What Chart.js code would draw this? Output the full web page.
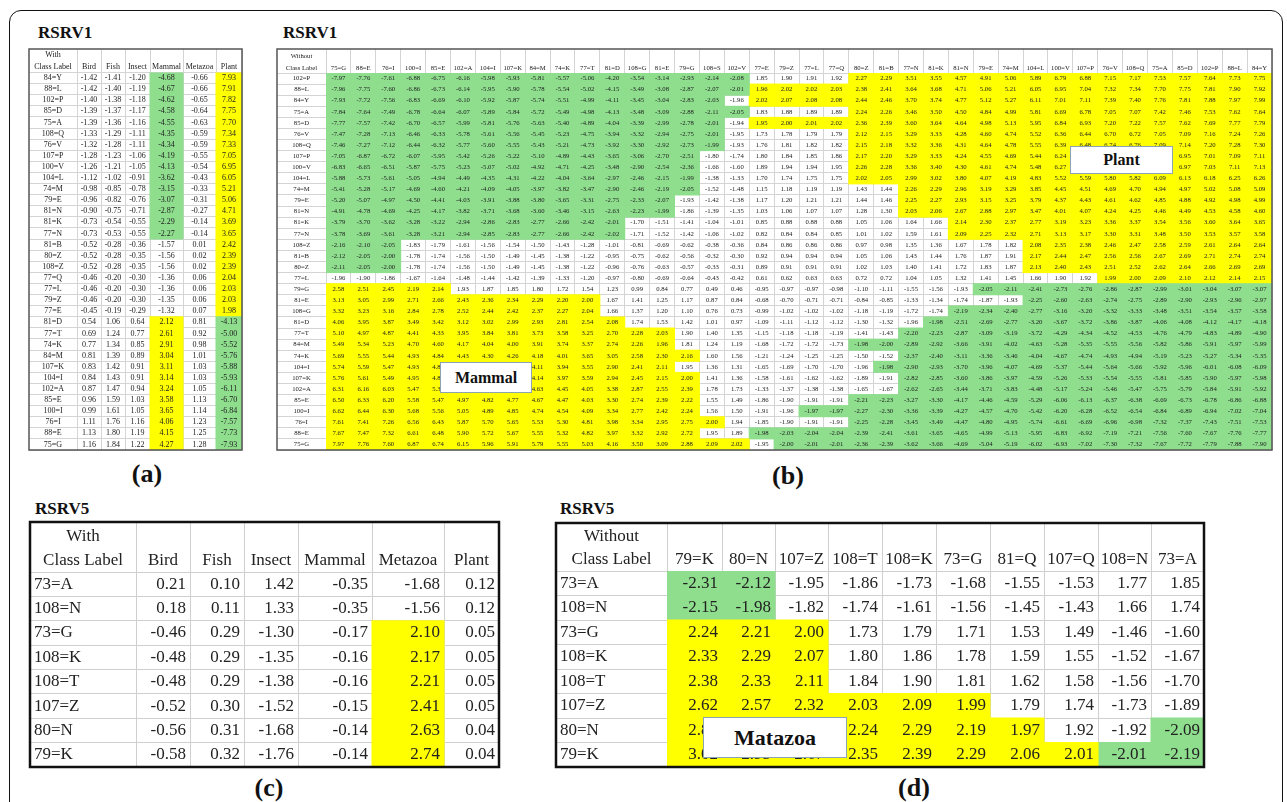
<!DOCTYPE html>
<html>
<head>
<meta charset="utf-8">
<title>RSRV1 / RSRV5 class label tables</title>
<script src="https://cdn.jsdelivr.net/npm/chart.js@4.4.1/dist/chart.umd.min.js"></script>
<style>
  body { margin: 0; background: #fff; }
  #page { position: relative; width: 1287px; height: 802px; overflow: hidden; font-family: 'Liberation Serif', 'Times New Roman', serif; color: #111; }
  .frame { position: absolute; left: 9px; top: 10px; width: 1272px; height: 830px; border: 1.5px solid #111; border-radius: 12px; }
  .box { position: absolute; }
  .title { position: absolute; font-weight: bold; font-size: 17px; line-height: 17px; }
  .tag { position: absolute; width: 60px; text-align: center; font-weight: bold; font-size: 26px; line-height: 26px; }
  .note { position: absolute; background: #fff; border: 1.5px solid #8ba3b5; font-weight: bold; display: flex; align-items: center; justify-content: center; }
</style>
</head>
<body>
<div id="page">
  <div class="frame"></div>

  <div class="title" style="left:38px; top:24px;">RSRV1</div>
  <div class="title" style="left:283px; top:24px;">RSRV1</div>
  <div class="title" style="left:35px; top:500px;">RSRV5</div>
  <div class="title" style="left:560px; top:500px;">RSRV5</div>

  <div class="box" style="left:26px; top:46px; width:219px; height:407px;"><canvas id="tableA"></canvas></div>
  <div class="box" style="left:274px; top:46px; width:1001px; height:407px;"><canvas id="tableB"></canvas></div>
  <div class="box" style="left:27px; top:519px; width:475px; height:251px;"><canvas id="tableC"></canvas></div>
  <div class="box" style="left:553px; top:520px; width:654px; height:250px;"><canvas id="tableD"></canvas></div>

  <div class="note" style="left:440px; top:362px; width:90px; height:29px; font-size:16px;">Mammal</div>
  <div class="note" style="left:1070px; top:146px; width:101px; height:26px; font-size:16px;">Plant</div>
  <div class="note" style="left:703px; top:717px; width:142px; height:39px; font-size:22px;">Matazoa</div>

  <div class="tag" style="left:117px; top:461px;">(a)</div>
  <div class="tag" style="left:758px; top:463px;">(b)</div>
  <div class="tag" style="left:239px; top:775px;">(c)</div>
  <div class="tag" style="left:884px; top:775px;">(d)</div>
</div>

<script>
// ---------- (a) RSRV1, with class label ----------
const aRows = ['84=Y', '88=L', '102=P', '85=D', '75=A', '108=Q', '76=V', '107=P', '100=V', '104=L',
  '74=M', '79=E', '81=N', '81=K', '77=N', '81=B', '80=Z', '108=Z', '77=Q', '77=L', '79=Z', '77=E',
  '81=D', '77=T', '74=K', '84=M', '107=K', '104=I', '102=A', '85=E', '100=I', '76=I', '88=E', '75=G'];
const aCols = ['Bird', 'Fish', 'Insect', 'Mammal', 'Metazoa', 'Plant'];
const aValues = [
  [-1.42, -1.41, -1.20, -4.68, -0.66, 7.93],
  [-1.42, -1.40, -1.19, -4.67, -0.66, 7.91],
  [-1.40, -1.38, -1.18, -4.62, -0.65, 7.82],
  [-1.39, -1.37, -1.17, -4.58, -0.64, 7.75],
  [-1.39, -1.36, -1.16, -4.55, -0.63, 7.70],
  [-1.33, -1.29, -1.11, -4.35, -0.59, 7.34],
  [-1.32, -1.28, -1.11, -4.34, -0.59, 7.33],
  [-1.28, -1.23, -1.06, -4.19, -0.55, 7.05],
  [-1.26, -1.21, -1.05, -4.13, -0.54, 6.95],
  [-1.12, -1.02, -0.91, -3.62, -0.43, 6.05],
  [-0.98, -0.85, -0.78, -3.15, -0.33, 5.21],
  [-0.96, -0.82, -0.76, -3.07, -0.31, 5.06],
  [-0.90, -0.75, -0.71, -2.87, -0.27, 4.71],
  [-0.73, -0.54, -0.55, -2.29, -0.14, 3.69],
  [-0.73, -0.53, -0.55, -2.27, -0.14, 3.65],
  [-0.52, -0.28, -0.36, -1.57, 0.01, 2.42],
  [-0.52, -0.28, -0.35, -1.56, 0.02, 2.39],
  [-0.52, -0.28, -0.35, -1.56, 0.02, 2.39],
  [-0.46, -0.20, -0.30, -1.36, 0.06, 2.04],
  [-0.46, -0.20, -0.30, -1.36, 0.06, 2.03],
  [-0.46, -0.20, -0.30, -1.35, 0.06, 2.03],
  [-0.45, -0.19, -0.29, -1.32, 0.07, 1.98],
  [0.54, 1.06, 0.64, 2.12, 0.81, -4.13],
  [0.69, 1.24, 0.77, 2.61, 0.92, -5.00],
  [0.77, 1.34, 0.85, 2.91, 0.98, -5.52],
  [0.81, 1.39, 0.89, 3.04, 1.01, -5.76],
  [0.83, 1.42, 0.91, 3.11, 1.03, -5.88],
  [0.84, 1.43, 0.91, 3.14, 1.03, -5.93],
  [0.87, 1.47, 0.94, 3.24, 1.05, -6.11],
  [0.96, 1.59, 1.03, 3.58, 1.13, -6.70],
  [0.99, 1.61, 1.05, 3.65, 1.14, -6.84],
  [1.11, 1.76, 1.16, 4.06, 1.23, -7.57],
  [1.13, 1.80, 1.19, 4.15, 1.25, -7.73],
  [1.16, 1.84, 1.22, 4.27, 1.28, -7.93]
];
// highlight per cell: g = green, y = yellow, . = none (run-length: count + code)
const aMarks = [
  '3. 1g 1. 1y', '3. 1g 1. 1y', '3. 1g 1. 1y', '3. 1g 1. 1y', '3. 1g 1. 1y',
  '3. 1g 1. 1y', '3. 1g 1. 1y', '3. 1g 1. 1y', '3. 1g 1. 1y', '3. 1g 1. 1y',
  '3. 1g 1. 1y', '3. 1g 1. 1y', '3. 1g 1. 1y', '3. 1g 1. 1y', '3. 1g 1. 1y',
  '5. 1y', '5. 1y', '5. 1y', '5. 1y', '5. 1y', '5. 1y', '5. 1y',
  '3. 1y 1. 1g', '3. 1y 1. 1g', '3. 1y 1. 1g', '3. 1y 1. 1g', '3. 1y 1. 1g', '3. 1y 1. 1g',
  '3. 1y 1. 1g', '3. 1y 1. 1g', '3. 1y 1. 1g', '3. 1y 1. 1g', '3. 1y 1. 1g', '3. 1y 1. 1g'
];

// ---------- (b) RSRV1, without class label ----------
const bRows = ['102=P', '88=L', '84=Y', '75=A', '85=D', '76=V', '108=Q', '107=P', '100=V', '104=L',
  '74=M', '79=E', '81=N', '81=K', '77=N', '108=Z', '81=B', '80=Z', '77=L', '79=G', '81=E', '108=G',
  '81=D', '77=T', '84=M', '74=K', '104=I', '107=K', '102=A', '85=E', '100=I', '76=I', '88=E', '75=G'];
const bCols = ['75=G', '88=E', '76=I', '100=I', '85=E', '102=A', '104=I', '107=K', '84=M', '74=K',
  '77=T', '81=D', '108=G', '81=E', '79=G', '108=S', '102=V', '77=E', '79=Z', '77=L', '77=Q', '80=Z',
  '81=B', '77=N', '81=K', '81=N', '79=E', '74=M', '104=L', '100=V', '107=P', '76=V', '108=Q', '75=A',
  '85=D', '102=P', '88=L', '84=Y'];
const bValues = [
  [-7.97, -7.76, -7.61, -6.88, -6.75, -6.16, -5.98, -5.93, -5.81, -5.57, -5.06, -4.20, -3.54, -3.14, -2.93, -2.14, -2.08, 1.85, 1.90, 1.91, 1.92, 2.27, 2.29, 3.51, 3.55, 4.57, 4.91, 5.06, 5.89, 6.79, 6.88, 7.15, 7.17, 7.53, 7.57, 7.64, 7.73, 7.75],
  [-7.96, -7.75, -7.60, -6.86, -6.73, -6.14, -5.95, -5.90, -5.78, -5.54, -5.02, -4.15, -3.49, -3.08, -2.87, -2.07, -2.01, 1.96, 2.02, 2.02, 2.03, 2.38, 2.41, 3.64, 3.68, 4.71, 5.06, 5.21, 6.05, 6.95, 7.04, 7.32, 7.34, 7.70, 7.75, 7.81, 7.90, 7.92],
  [-7.93, -7.72, -7.56, -6.83, -6.69, -6.10, -5.92, -5.87, -5.74, -5.51, -4.99, -4.11, -3.45, -3.04, -2.83, -2.03, -1.96, 2.02, 2.07, 2.08, 2.08, 2.44, 2.46, 3.70, 3.74, 4.77, 5.12, 5.27, 6.11, 7.01, 7.11, 7.39, 7.40, 7.76, 7.81, 7.88, 7.97, 7.99],
  [-7.84, -7.64, -7.49, -6.78, -6.64, -6.07, -5.89, -5.84, -5.72, -5.49, -4.98, -4.13, -3.48, -3.09, -2.88, -2.11, -2.05, 1.83, 1.88, 1.89, 1.89, 2.24, 2.26, 3.46, 3.50, 4.50, 4.84, 4.99, 5.81, 6.69, 6.78, 7.05, 7.07, 7.42, 7.46, 7.53, 7.62, 7.64],
  [-7.77, -7.57, -7.42, -6.70, -6.57, -5.99, -5.81, -5.76, -5.63, -5.40, -4.89, -4.04, -3.39, -2.99, -2.78, -2.01, -1.94, 1.95, 2.00, 2.01, 2.02, 2.36, 2.39, 3.60, 3.64, 4.64, 4.98, 5.13, 5.95, 6.84, 6.93, 7.20, 7.22, 7.57, 7.62, 7.69, 7.77, 7.79],
  [-7.47, -7.28, -7.13, -6.46, -6.33, -5.78, -5.61, -5.56, -5.45, -5.23, -4.75, -3.94, -3.32, -2.94, -2.75, -2.01, -1.95, 1.73, 1.78, 1.79, 1.79, 2.12, 2.15, 3.29, 3.33, 4.28, 4.60, 4.74, 5.52, 6.36, 6.44, 6.70, 6.72, 7.05, 7.09, 7.16, 7.24, 7.26],
  [-7.46, -7.27, -7.12, -6.44, -6.32, -5.77, -5.60, -5.55, -5.43, -5.21, -4.73, -3.92, -3.30, -2.92, -2.73, -1.99, -1.93, 1.76, 1.81, 1.82, 1.82, 2.15, 2.18, 3.32, 3.36, 4.31, 4.64, 4.78, 5.55, 6.39, 6.48, 6.74, 6.76, 7.09, 7.14, 7.20, 7.28, 7.30],
  [-7.05, -6.87, -6.72, -6.07, -5.95, -5.42, -5.26, -5.22, -5.10, -4.89, -4.43, -3.65, -3.06, -2.70, -2.51, -1.80, -1.74, 1.80, 1.84, 1.85, 1.86, 2.17, 2.20, 3.29, 3.33, 4.24, 4.55, 4.69, 5.44, 6.24, 6.32, 6.57, 6.59, 6.91, 6.95, 7.01, 7.09, 7.11],
  [-6.83, -6.65, -6.51, -5.87, -5.75, -5.23, -5.07, -5.02, -4.92, -4.71, -4.25, -3.48, -2.90, -2.54, -2.36, -1.66, -1.60, 1.89, 1.94, 1.94, 1.95, 2.26, 2.28, 3.36, 3.40, 4.30, 4.61, 4.74, 5.48, 6.27, 6.35, 6.60, 6.62, 6.93, 6.97, 7.03, 7.11, 7.13],
  [-5.88, -5.73, -5.61, -5.05, -4.94, -4.49, -4.35, -4.31, -4.22, -4.04, -3.64, -2.97, -2.46, -2.15, -1.99, -1.38, -1.33, 1.70, 1.74, 1.75, 1.75, 2.02, 2.05, 2.99, 3.02, 3.80, 4.07, 4.19, 4.83, 5.52, 5.59, 5.80, 5.82, 6.09, 6.13, 6.18, 6.25, 6.26],
  [-5.41, -5.28, -5.17, -4.69, -4.60, -4.21, -4.09, -4.05, -3.97, -3.82, -3.47, -2.90, -2.46, -2.19, -2.05, -1.52, -1.48, 1.15, 1.18, 1.19, 1.19, 1.43, 1.44, 2.26, 2.29, 2.96, 3.19, 3.29, 3.85, 4.45, 4.51, 4.69, 4.70, 4.94, 4.97, 5.02, 5.08, 5.09],
  [-5.20, -5.07, -4.97, -4.50, -4.41, -4.03, -3.91, -3.88, -3.80, -3.65, -3.31, -2.75, -2.33, -2.07, -1.93, -1.42, -1.38, 1.17, 1.20, 1.21, 1.21, 1.44, 1.46, 2.25, 2.27, 2.93, 3.15, 3.25, 3.79, 4.37, 4.43, 4.61, 4.62, 4.85, 4.88, 4.92, 4.98, 4.99],
  [-4.91, -4.78, -4.69, -4.25, -4.17, -3.82, -3.71, -3.68, -3.60, -3.46, -3.15, -2.63, -2.23, -1.99, -1.86, -1.39, -1.35, 1.03, 1.06, 1.07, 1.07, 1.28, 1.30, 2.03, 2.06, 2.67, 2.88, 2.97, 3.47, 4.01, 4.07, 4.24, 4.25, 4.46, 4.49, 4.53, 4.58, 4.60],
  [-3.79, -3.70, -3.62, -3.28, -3.22, -2.94, -2.86, -2.83, -2.77, -2.66, -2.42, -2.01, -1.70, -1.51, -1.41, -1.04, -1.01, 0.85, 0.88, 0.88, 0.88, 1.05, 1.06, 1.64, 1.66, 2.14, 2.30, 2.37, 2.77, 3.19, 3.23, 3.36, 3.37, 3.54, 3.56, 3.60, 3.64, 3.65],
  [-3.78, -3.69, -3.61, -3.28, -3.21, -2.94, -2.85, -2.83, -2.77, -2.66, -2.42, -2.02, -1.71, -1.52, -1.42, -1.06, -1.02, 0.82, 0.84, 0.84, 0.85, 1.01, 1.02, 1.59, 1.61, 2.09, 2.25, 2.32, 2.71, 3.13, 3.17, 3.30, 3.31, 3.48, 3.50, 3.53, 3.57, 3.58],
  [-2.16, -2.10, -2.05, -1.83, -1.79, -1.61, -1.56, -1.54, -1.50, -1.43, -1.28, -1.01, -0.81, -0.69, -0.62, -0.38, -0.36, 0.84, 0.86, 0.86, 0.86, 0.97, 0.98, 1.35, 1.36, 1.67, 1.78, 1.82, 2.08, 2.35, 2.38, 2.46, 2.47, 2.58, 2.59, 2.61, 2.64, 2.64],
  [-2.12, -2.05, -2.00, -1.78, -1.74, -1.56, -1.50, -1.49, -1.45, -1.38, -1.22, -0.95, -0.75, -0.62, -0.56, -0.32, -0.30, 0.92, 0.94, 0.94, 0.94, 1.05, 1.06, 1.43, 1.44, 1.76, 1.87, 1.91, 2.17, 2.44, 2.47, 2.56, 2.56, 2.67, 2.69, 2.71, 2.74, 2.74],
  [-2.11, -2.05, -2.00, -1.78, -1.74, -1.56, -1.50, -1.49, -1.45, -1.38, -1.22, -0.96, -0.76, -0.63, -0.57, -0.33, -0.31, 0.89, 0.91, 0.91, 0.91, 1.02, 1.03, 1.40, 1.41, 1.72, 1.83, 1.87, 2.13, 2.40, 2.43, 2.51, 2.52, 2.62, 2.64, 2.66, 2.69, 2.69],
  [-1.96, -1.90, -1.86, -1.67, -1.64, -1.48, -1.44, -1.42, -1.39, -1.33, -1.20, -0.97, -0.80, -0.69, -0.64, -0.43, -0.42, 0.61, 0.62, 0.63, 0.63, 0.72, 0.72, 1.04, 1.05, 1.32, 1.41, 1.45, 1.66, 1.90, 1.92, 1.99, 2.00, 2.09, 2.10, 2.12, 2.14, 2.15],
  [2.58, 2.51, 2.45, 2.19, 2.14, 1.93, 1.87, 1.85, 1.80, 1.72, 1.54, 1.23, 0.99, 0.84, 0.77, 0.49, 0.46, -0.95, -0.97, -0.97, -0.98, -1.10, -1.11, -1.55, -1.56, -1.93, -2.05, -2.11, -2.41, -2.73, -2.76, -2.86, -2.87, -2.99, -3.01, -3.04, -3.07, -3.07],
  [3.13, 3.05, 2.99, 2.71, 2.66, 2.43, 2.36, 2.34, 2.29, 2.20, 2.00, 1.67, 1.41, 1.25, 1.17, 0.87, 0.84, -0.68, -0.70, -0.71, -0.71, -0.84, -0.85, -1.33, -1.34, -1.74, -1.87, -1.93, -2.25, -2.60, -2.63, -2.74, -2.75, -2.89, -2.90, -2.93, -2.96, -2.97],
  [3.32, 3.23, 3.16, 2.84, 2.78, 2.52, 2.44, 2.42, 2.37, 2.27, 2.04, 1.66, 1.37, 1.20, 1.10, 0.76, 0.73, -0.99, -1.02, -1.02, -1.02, -1.18, -1.19, -1.72, -1.74, -2.19, -2.34, -2.40, -2.77, -3.16, -3.20, -3.32, -3.33, -3.48, -3.51, -3.54, -3.57, -3.58],
  [4.06, 3.95, 3.87, 3.49, 3.42, 3.12, 3.02, 2.99, 2.93, 2.81, 2.54, 2.08, 1.74, 1.53, 1.42, 1.01, 0.97, -1.09, -1.11, -1.12, -1.12, -1.30, -1.32, -1.96, -1.98, -2.51, -2.69, -2.77, -3.20, -3.67, -3.72, -3.86, -3.87, -4.06, -4.08, -4.12, -4.17, -4.18],
  [5.10, 4.97, 4.87, 4.41, 4.33, 3.95, 3.84, 3.81, 3.73, 3.58, 3.25, 2.70, 2.28, 2.03, 1.90, 1.40, 1.35, -1.15, -1.18, -1.18, -1.19, -1.41, -1.43, -2.20, -2.23, -2.87, -3.09, -3.19, -3.72, -4.29, -4.34, -4.52, -4.53, -4.76, -4.79, -4.83, -4.89, -4.90],
  [5.49, 5.34, 5.23, 4.70, 4.60, 4.17, 4.04, 4.00, 3.91, 3.74, 3.37, 2.74, 2.26, 1.96, 1.81, 1.24, 1.19, -1.68, -1.72, -1.72, -1.73, -1.98, -2.00, -2.89, -2.92, -3.66, -3.91, -4.02, -4.63, -5.28, -5.35, -5.55, -5.56, -5.82, -5.86, -5.91, -5.97, -5.99],
  [5.69, 5.55, 5.44, 4.93, 4.84, 4.43, 4.30, 4.26, 4.18, 4.01, 3.65, 3.05, 2.58, 2.30, 2.16, 1.60, 1.56, -1.21, -1.24, -1.25, -1.25, -1.50, -1.52, -2.37, -2.40, -3.11, -3.36, -3.46, -4.04, -4.67, -4.74, -4.93, -4.94, -5.19, -5.23, -5.27, -5.34, -5.35],
  [5.74, 5.59, 5.47, 4.93, 4.84, 4.36, 4.23, 4.19, 4.11, 3.94, 3.55, 2.90, 2.41, 2.11, 1.95, 1.36, 1.31, -1.65, -1.69, -1.70, -1.70, -1.96, -1.98, -2.90, -2.93, -3.70, -3.96, -4.07, -4.69, -5.37, -5.44, -5.64, -5.66, -5.92, -5.96, -6.01, -6.08, -6.09],
  [5.76, 5.61, 5.49, 4.95, 4.85, 4.39, 4.26, 4.22, 4.14, 3.97, 3.59, 2.94, 2.45, 2.15, 2.00, 1.41, 1.36, -1.58, -1.61, -1.62, -1.62, -1.89, -1.91, -2.82, -2.85, -3.60, -3.86, -3.97, -4.59, -5.26, -5.33, -5.54, -5.55, -5.81, -5.85, -5.90, -5.97, -5.98],
  [6.31, 6.16, 6.03, 5.47, 5.37, 4.91, 4.77, 4.73, 4.63, 4.45, 4.05, 3.38, 2.87, 2.55, 2.39, 1.78, 1.73, -1.33, -1.37, -1.38, -1.38, -1.65, -1.67, -2.62, -2.65, -3.44, -3.71, -3.83, -4.48, -5.17, -5.24, -5.46, -5.47, -5.75, -5.79, -5.84, -5.91, -5.92],
  [6.50, 6.33, 6.20, 5.58, 5.47, 4.97, 4.82, 4.77, 4.67, 4.47, 4.03, 3.30, 2.74, 2.39, 2.22, 1.55, 1.49, -1.86, -1.90, -1.91, -1.91, -2.21, -2.23, -3.27, -3.30, -4.17, -4.46, -4.59, -5.29, -6.06, -6.13, -6.37, -6.38, -6.69, -6.73, -6.78, -6.86, -6.88],
  [6.62, 6.44, 6.30, 5.68, 5.56, 5.05, 4.89, 4.85, 4.74, 4.54, 4.09, 3.34, 2.77, 2.42, 2.24, 1.56, 1.50, -1.91, -1.96, -1.97, -1.97, -2.27, -2.30, -3.36, -3.39, -4.27, -4.57, -4.70, -5.42, -6.20, -6.28, -6.52, -6.54, -6.84, -6.89, -6.94, -7.02, -7.04],
  [7.61, 7.41, 7.26, 6.56, 6.43, 5.87, 5.70, 5.65, 5.53, 5.30, 4.81, 3.98, 3.34, 2.95, 2.75, 2.00, 1.94, -1.85, -1.90, -1.91, -1.91, -2.25, -2.28, -3.45, -3.49, -4.47, -4.80, -4.95, -5.74, -6.61, -6.69, -6.96, -6.98, -7.32, -7.37, -7.43, -7.51, -7.53],
  [7.67, 7.47, 7.32, 6.61, 6.48, 5.90, 5.72, 5.67, 5.55, 5.32, 4.82, 3.97, 3.32, 2.92, 2.72, 1.95, 1.89, -1.98, -2.03, -2.04, -2.04, -2.39, -2.41, -3.61, -3.65, -4.65, -4.99, -5.13, -5.95, -6.83, -6.92, -7.19, -7.21, -7.56, -7.60, -7.67, -7.76, -7.77],
  [7.97, 7.76, 7.60, 6.87, 6.74, 6.15, 5.96, 5.91, 5.79, 5.55, 5.03, 4.16, 3.50, 3.09, 2.88, 2.09, 2.02, -1.95, -2.00, -2.01, -2.01, -2.36, -2.39, -3.62, -3.66, -4.69, -5.04, -5.19, -6.02, -6.93, -7.02, -7.30, -7.32, -7.67, -7.72, -7.79, -7.88, -7.90]
];
const bMarks = [
  '17g 4. 17y', '17g 21y', '16g 1. 21y', '17g 4. 17y', '16g 1. 21y',
  '16g 5. 17y', '16g 5. 17y', '15g 6. 17y', '15g 6. 17y', '15g 6. 17y',
  '15g 8. 15y', '14g 9. 15y', '14g 9. 15y', '12g 13. 13y', '12g 13. 13y',
  '3g 25. 10y', '3g 25. 10y', '3g 25. 10y', '31. 7y',
  '5y 21. 12g', '11y 17. 10g', '11y 14. 13g', '12y 12. 14g', '14y 9. 15g',
  '14y 7. 17g', '15y 8. 15g', '14y 8. 16g', '15y 8. 15g', '15y 8. 15g',
  '15y 6. 17g', '15y 4. 19g', '16y 5. 17g', '15y 2. 21g', '17y 1. 20g'
];

// ---------- (c) RSRV5, with class label ----------
const cRows = ['73=A', '108=N', '73=G', '108=K', '108=T', '107=Z', '80=N', '79=K'];
const cCols = ['Bird', 'Fish', 'Insect', 'Mammal', 'Metazoa', 'Plant'];
const cValues = [
  [0.21, 0.10, 1.42, -0.35, -1.68, 0.12],
  [0.18, 0.11, 1.33, -0.35, -1.56, 0.12],
  [-0.46, 0.29, -1.30, -0.17, 2.10, 0.05],
  [-0.48, 0.29, -1.35, -0.16, 2.17, 0.05],
  [-0.48, 0.29, -1.38, -0.16, 2.21, 0.05],
  [-0.52, 0.30, -1.52, -0.15, 2.41, 0.05],
  [-0.56, 0.31, -1.68, -0.14, 2.63, 0.04],
  [-0.58, 0.32, -1.76, -0.14, 2.74, 0.04]
];
const cMarks = ['6.', '6.', '4. 1y 1.', '4. 1y 1.', '4. 1y 1.', '4. 1y 1.', '4. 1y 1.', '4. 1y 1.'];

// ---------- (d) RSRV5, without class label ----------
const dRows = ['73=A', '108=N', '73=G', '108=K', '108=T', '107=Z', '80=N', '79=K'];
const dCols = ['79=K', '80=N', '107=Z', '108=T', '108=K', '73=G', '81=Q', '107=Q', '108=N', '73=A'];
const dValues = [
  [-2.31, -2.12, -1.95, -1.86, -1.73, -1.68, -1.55, -1.53, 1.77, 1.85],
  [-2.15, -1.98, -1.82, -1.74, -1.61, -1.56, -1.45, -1.43, 1.66, 1.74],
  [2.24, 2.21, 2.00, 1.73, 1.79, 1.71, 1.53, 1.49, -1.46, -1.60],
  [2.33, 2.29, 2.07, 1.80, 1.86, 1.78, 1.59, 1.55, -1.52, -1.67],
  [2.38, 2.33, 2.11, 1.84, 1.90, 1.81, 1.62, 1.58, -1.56, -1.70],
  [2.62, 2.57, 2.32, 2.03, 2.09, 1.99, 1.79, 1.74, -1.73, -1.89],
  [2.87, 2.82, 2.54, 2.24, 2.29, 2.19, 1.97, 1.92, -1.92, -2.09],
  [3.02, 2.95, 2.67, 2.35, 2.39, 2.29, 2.06, 2.01, -2.01, -2.19]
];
const dMarks = ['2g 8.', '2g 8.', '3y 7.', '3y 7.', '3y 7.', '6y 4.', '7y 2. 1g', '8y 2g'];

const GREEN = '#8ede8e';
const YELLOW = '#ffff00';
const SERIF = "'Liberation Serif', 'Times New Roman', serif";

function expandRuns(s) {
  return s.split(' ').map(p => p.slice(-1).repeat(parseInt(p, 10))).join('');
}

function widestText(list, size) {
  const ctx = document.createElement('canvas').getContext('2d');
  ctx.font = size + 'px ' + SERIF;
  return Math.max(...list.map(t => ctx.measureText(t).width));
}

// numbers inside the cells, the corner header and the outer frame
function tableText(look) {
  return {
    id: 'tableText',
    afterDatasetsDraw(chart) {
      const ctx = chart.ctx;
      const area = chart.chartArea;
      ctx.save();
      ctx.fillStyle = '#222';
      ctx.font = look.size + 'px ' + SERIF;
      ctx.textBaseline = 'middle';
      ctx.textAlign = look.numAlign;
      chart.data.datasets.forEach((ds, c) => {
        chart.getDatasetMeta(c).data.forEach((bar, r) => {
          const left = Math.min(bar.x, bar.base);
          const right = Math.max(bar.x, bar.base);
          const x = look.numAlign === 'right' ? right - 4 : (left + right) / 2;
          ctx.fillText(ds.cells[r].toFixed(2), x, bar.y);
        });
      });

      ctx.textAlign = 'center';
      const cx = area.left - look.labelW / 2;
      const y2 = area.top - 1 - look.size * 0.6;
      ctx.fillText(look.corner[0], cx, y2 - look.cornerGap);
      ctx.fillText(look.corner[1], cx, y2);

      ctx.strokeStyle = look.frameColor;
      ctx.lineWidth = look.frame;
      ctx.strokeRect(area.left - look.labelW, area.top - look.headerH,
        area.right - area.left + look.labelW, area.bottom - area.top + look.headerH);
      ctx.restore();
    }
  };
}

function drawTable(id, rows, cols, values, marks, look) {
  const codes = marks.map(expandRuns);
  // column borders on the value axis; widths are a layout setting of each table
  const widths = look.colWidths || cols.map(() => 1);
  const edges = [0];
  widths.forEach(w => edges.push(edges[edges.length - 1] + w));
  const centers = widths.map((w, i) => edges[i] + w / 2);
  const total = edges[edges.length - 1];

  const datasets = cols.map((col, c) => ({
    label: col,
    data: rows.map(() => [edges[c], edges[c + 1]]),
    cells: values.map(v => v[c]),
    backgroundColor: codes.map(m => m[c] === 'g' ? GREEN : m[c] === 'y' ? YELLOW : 'rgba(0,0,0,0)'),
    borderWidth: 0,
    grouped: false,
    barPercentage: 1,
    categoryPercentage: 1,
    inflateAmount: 0.5
  }));
  const font = { family: SERIF, size: look.size };
  const rowPad = look.rowAlign === 'left' ? 4 - look.labelW : -look.labelW / 2 - widestText(rows, look.size) / 2;

  return new Chart(document.getElementById(id), {
    type: 'bar',
    data: { labels: rows, datasets: datasets },
    options: {
      indexAxis: 'y',
      animation: false,
      responsive: true,
      maintainAspectRatio: false,
      events: [],
      layout: { padding: 3 },
      plugins: { legend: { display: false }, tooltip: { enabled: false } },
      scales: {
        x: { type: 'linear', display: false, min: 0, max: total },
        xEdge: {
          type: 'linear', axis: 'x', position: 'top', min: 0, max: total, weight: 0,
          afterBuildTicks: s => { s.ticks = edges.map(v => ({ value: v })); },
          grid: { color: look.line, tickLength: look.headerH },
          border: { color: look.line },
          ticks: { display: false },
          afterFit: s => { s.height = 0; }
        },
        xTop: {
          type: 'linear', axis: 'x', position: 'top', min: 0, max: total, weight: 1,
          afterBuildTicks: s => { s.ticks = centers.map(v => ({ value: v })); },
          grid: { display: false, drawTicks: false },
          border: { display: false },
          ticks: {
            callback: (v, i) => cols[i], font: font, color: '#222', padding: 1,
            autoSkip: false, maxRotation: 0, minRotation: 0
          },
          afterFit: s => { s.height = look.headerH; }
        },
        y: {
          type: 'category', offset: true,
          grid: { offset: true, color: look.line, tickLength: look.labelW },
          border: { color: look.line },
          ticks: {
            mirror: true, crossAlign: look.rowAlign === 'left' ? 'near' : 'center',
            padding: rowPad, font: font, color: '#222', autoSkip: false
          },
          afterFit: s => { s.width = look.labelW; }
        }
      }
    },
    plugins: [tableText(look)]
  });
}

const smallLook = { size: 8, labelW: 48, headerH: 23.5, numAlign: 'center', rowAlign: 'center',
  corner: ['With', 'Class Label'], cornerGap: 12, line: '#d4d4d4', frame: 1.5, frameColor: '#555' };

drawTable('tableA', aRows, aCols, aValues, aMarks,
  Object.assign({}, smallLook, { colWidths: [24, 24, 25, 33, 33, 26] }));
drawTable('tableB', bRows, bCols, bValues, bMarks,
  Object.assign({}, smallLook, { size: 6.7, labelW: 49, headerH: 24, corner: ['Without', 'Class Label'], cornerGap: 11.5 }));
drawTable('tableC', cRows, cCols, cValues, cMarks,
  { size: 17, labelW: 106, headerH: 50, numAlign: 'right', rowAlign: 'left', colWidths: [54, 54, 54, 74, 72, 55],
    corner: ['With', 'Class Label'], cornerGap: 24, line: '#cfcfcf', frame: 2.5, frameColor: '#111' });
drawTable('tableD', dRows, dCols, dValues, dMarks,
  { size: 17, labelW: 111, headerH: 48, numAlign: 'right', rowAlign: 'left', colWidths: [55, 53, 53, 54, 54, 54, 54, 54, 53, 53],
    corner: ['Without', 'Class Label'], cornerGap: 23, line: '#cfcfcf', frame: 2.5, frameColor: '#111' });
</script>
</body>
</html>
